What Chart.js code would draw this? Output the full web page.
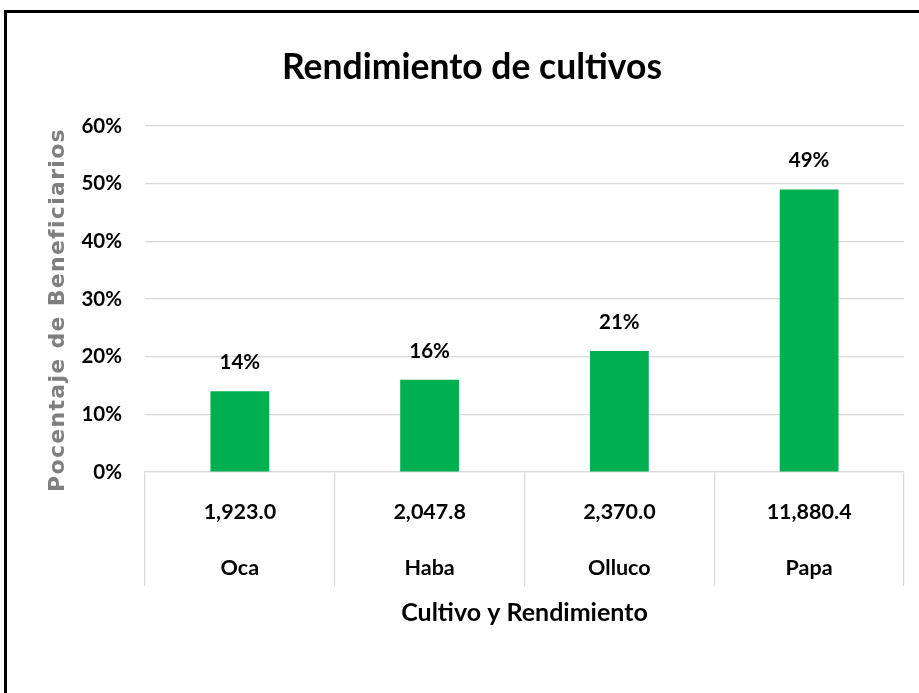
<!DOCTYPE html>
<html>
<head>
<meta charset="utf-8">
<script src="https://cdn.jsdelivr.net/npm/chart.js@4/dist/chart.umd.min.js"></script>
<style>
html,body{margin:0;padding:0;background:#fff;}
#wrap{width:919px;height:693px;position:relative;}
</style>
</head>
<body>
<div id="wrap"><canvas id="c" width="919" height="693"></canvas></div>
<script>
const cultivos = ['Oca', 'Haba', 'Olluco', 'Papa'];
const rendimiento = ['1,923.0', '2,047.8', '2,370.0', '11,880.4'];
const porcentaje = [14, 16, 21, 49];
const yTicks = [0, 10, 20, 30, 40, 50, 60];
const chartTitle = 'Rendimiento de cultivos';
const xTitle = 'Cultivo y Rendimiento';
const yTitle = 'Pocentaje de Beneficiarios';

const FONT = "Lato, Carlito, 'Open Sans', sans-serif";

const frame = {
  id: 'frame',
  beforeDraw(chart) {
    const ctx = chart.ctx;
    ctx.save();
    ctx.fillStyle = '#fff';
    ctx.fillRect(0, 0, chart.width, chart.height);
    ctx.strokeStyle = '#000';
    ctx.lineWidth = 3;
    ctx.strokeRect(5.5, 11.5, 1000, 1000);
    ctx.restore();
  }
};

const texts = {
  id: 'texts',
  afterDraw(chart) {
    const ctx = chart.ctx;
    const area = chart.chartArea;
    const xs = chart.scales.x;
    const meta = chart.getDatasetMeta(0);
    ctx.save();
    ctx.fillStyle = '#000';
    ctx.textAlign = 'center';
    ctx.textBaseline = 'alphabetic';
    // chart title
    ctx.font = "bold 35.5px " + FONT;
    ctx.fillText(chartTitle, 472, 79);
    // value labels
    ctx.font = "bold 20.5px " + FONT;
    meta.data.forEach((bar, i) => {
      ctx.fillText(porcentaje[i] + '%', bar.x, bar.y - 22);
    });
    // category labels (two levels)
    ctx.font = "bold 21.5px " + FONT;
    cultivos.forEach((c, i) => {
      const x = xs.getPixelForValue(i);
      ctx.fillText(rendimiento[i], x, area.bottom + 46.5);
      ctx.fillText(c, x, area.bottom + 102.5);
    });
    // x axis title
    ctx.font = "bold 25px " + FONT;
    ctx.fillText(xTitle, 524.5, 620.5);
    // y axis title
    ctx.translate(64, (area.top + area.bottom) / 2 + 11);
    ctx.rotate(-Math.PI / 2);
    ctx.fillStyle = '#7f7f7f';
    ctx.font = "bold 22px 'DejaVu Sans', sans-serif";
    try { ctx.letterSpacing = '1.3px'; } catch (e) {}
    ctx.fillText(yTitle, 0, 0);
    ctx.restore();
  }
};

new Chart(document.getElementById('c'), {
  type: 'bar',
  data: {
    labels: cultivos,
    datasets: [{
      data: porcentaje,
      backgroundColor: '#00B050',
      borderWidth: 0,
      categoryPercentage: 1,
      barPercentage: 0.31
    }]
  },
  options: {
    responsive: false,
    animation: false,
    layout: { padding: { left: 0, right: 15, top: 126, bottom: 107 } },
    plugins: {
      legend: { display: false },
      tooltip: { enabled: false },
      title: { display: false }
    },
    scales: {
      y: {
        min: 0, max: 60,
        afterBuildTicks(scale) { scale.ticks = yTicks.map(v => ({ value: v })); },
        afterFit(scale) { scale.width = 145; },
        grid: { color: '#d9d9d9', lineWidth: 1.2, drawTicks: false },
        border: { display: false },
        ticks: {
          color: '#000',
          padding: 23,
          font: { family: FONT, size: 20.5, weight: 'bold' },
          callback: v => v + '%'
        }
      },
      x: {
        afterFit(scale) { scale.height = 114; },
        grid: {
          offset: true,
          drawOnChartArea: false,
          drawTicks: true,
          tickLength: 114,
          color: '#d9d9d9',
          lineWidth: 1.2
        },
        border: { display: true, color: '#d9d9d9', width: 1.2 },
        ticks: { display: false }
      }
    }
  },
  plugins: [frame, texts]
});
</script>
</body>
</html>
